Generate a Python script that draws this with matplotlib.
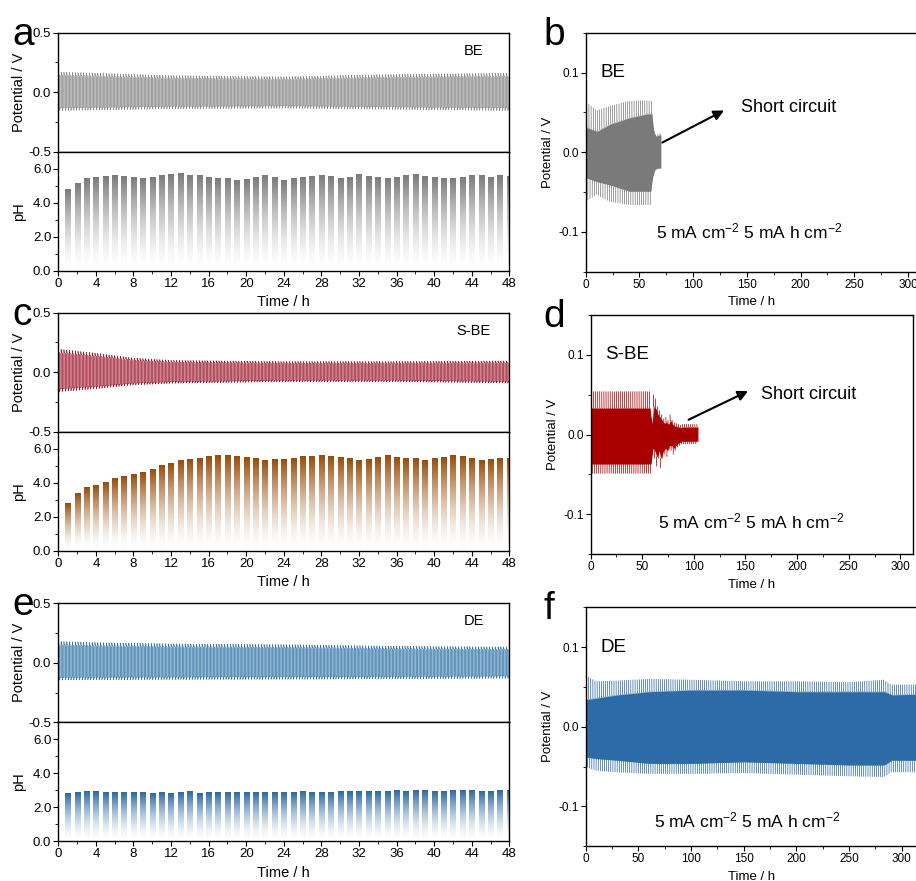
import numpy as np
import matplotlib
matplotlib.use("Agg")
import matplotlib.pyplot as plt
from matplotlib.colors import to_rgb
from matplotlib.ticker import MultipleLocator

plt.rcParams['font.family'] = ['Liberation Sans', 'DejaVu Sans']
plt.rcParams['mathtext.fontset'] = 'custom'
plt.rcParams['mathtext.rm'] = 'Liberation Sans'
plt.rcParams['mathtext.it'] = 'Liberation Sans:italic'
plt.rcParams['axes.linewidth'] = 1.0

# ---- pH readings, one per hour (1..48 h)
hours = np.arange(1, 49)
ph_be = [4.78, 5.12, 5.43, 5.49, 5.55, 5.59, 5.55, 5.49, 5.43, 5.51, 5.59, 5.65,
         5.71, 5.63, 5.61, 5.51, 5.47, 5.43, 5.33, 5.41, 5.51, 5.59, 5.49, 5.33,
         5.45, 5.51, 5.57, 5.63, 5.55, 5.43, 5.51, 5.65, 5.55, 5.49, 5.45, 5.51,
         5.59, 5.65, 5.57, 5.51, 5.43, 5.47, 5.51, 5.61, 5.59, 5.49, 5.59, 5.53]
ph_sbe = [2.78, 3.37, 3.74, 3.84, 4.00, 4.25, 4.41, 4.49, 4.63, 4.78, 5.00, 5.14,
          5.30, 5.39, 5.47, 5.55, 5.59, 5.59, 5.53, 5.49, 5.43, 5.35, 5.37, 5.41,
          5.47, 5.53, 5.55, 5.63, 5.55, 5.49, 5.43, 5.33, 5.41, 5.51, 5.59, 5.51,
          5.47, 5.43, 5.35, 5.47, 5.51, 5.59, 5.53, 5.43, 5.35, 5.41, 5.45, 5.47]
ph_de = [2.82, 2.86, 2.92, 2.92, 2.88, 2.86, 2.84, 2.88, 2.86, 2.82, 2.84, 2.82,
         2.88, 2.94, 2.82, 2.84, 2.86, 2.84, 2.88, 2.88, 2.86, 2.86, 2.88, 2.86,
         2.86, 2.90, 2.84, 2.86, 2.88, 2.90, 2.92, 2.90, 2.92, 2.94, 2.90, 3.00,
         2.90, 2.98, 2.96, 2.92, 2.94, 2.98, 2.96, 2.96, 2.94, 2.94, 2.96, 2.96]

# ---- potential envelopes of the 48 h pH cells (peak of each half cycle)
env_t = [0, 4, 8, 12, 24, 36, 48]
be_up = [0.170, 0.160, 0.150, 0.140, 0.130, 0.150, 0.160]
be_dn = [-0.155, -0.150, -0.145, -0.140, -0.135, -0.145, -0.155]
sbe_up = [0.195, 0.160, 0.120, 0.100, 0.090, 0.090, 0.095]
sbe_dn = [-0.165, -0.140, -0.108, -0.094, -0.080, -0.080, -0.092]
de_up = [0.180, 0.170, 0.165, 0.160, 0.153, 0.140, 0.133]
de_dn = [-0.145, -0.143, -0.142, -0.141, -0.139, -0.135, -0.130]

# ---- symmetric cell cycling, 5 mA cm-2 / 5 mA h cm-2
b_t = [0, 10, 22, 40, 57, 62]
b_outer_up = [0.064, 0.052, 0.058, 0.064, 0.065, 0.064]
b_inner_up = [0.031, 0.026, 0.035, 0.043, 0.048, 0.048]
b_outer_dn = [-0.062, -0.053, -0.062, -0.066, -0.066, -0.066]
b_inner_dn = [-0.032, -0.037, -0.041, -0.049, -0.049, -0.049]
b_short_amp = [0.030, 0.026, 0.022, 0.020, 0.020, 0.021, 0.020, 0.022]

d_t = [0, 58]
d_outer_up = [0.054, 0.054]
d_inner_up = [0.033, 0.033]
d_outer_dn = [-0.049, -0.049]
d_inner_dn = [-0.037, -0.037]
d_short_amp = [0.020, 0.025, 0.050, 0.030, 0.045, 0.040, 0.035, 0.030, 0.030, 0.042,
               0.025, 0.030, 0.020, 0.025, 0.022, 0.028, 0.018, 0.020, 0.025, 0.020,
               0.018, 0.025, 0.015, 0.020, 0.014, 0.016, 0.013, 0.014, 0.012,
               0.012, 0.013, 0.012, 0.013, 0.012, 0.013, 0.012, 0.013, 0.012,
               0.013, 0.012, 0.013, 0.012, 0.013, 0.012, 0.013]

f_t = [0, 10, 30, 60, 100, 150, 200, 250, 283, 290, 320]
f_outer_up = [0.065, 0.057, 0.058, 0.060, 0.059, 0.057, 0.057, 0.056, 0.059, 0.053, 0.053]
f_inner_up = [0.034, 0.036, 0.040, 0.044, 0.046, 0.046, 0.044, 0.044, 0.044, 0.040, 0.041]
f_inner_dn = [-0.038, -0.040, -0.042, -0.046, -0.046, -0.044, -0.046, -0.048, -0.048, -0.042, -0.042]
f_outer_dn = [-0.050, -0.055, -0.057, -0.059, -0.059, -0.058, -0.060, -0.062, -0.063, -0.057, -0.057]

W, H = 916, 881
fig = plt.figure(figsize=(W / 100, H / 100), dpi=100)


def rect(x0, x1, y0, y1):
    return [x0 / W, 1 - y1 / H, (x1 - x0) / W, (y1 - y0) / H]


def square_trace(t_end, half, up_pk, dn_pk, plat_ratio):
    # galvanostatic plating/stripping: overshoot then plateau each half cycle
    ts, vs = [], []
    for i, t0 in enumerate(np.arange(0, t_end, half)):
        pk = np.interp(t0, env_t, up_pk if i % 2 == 0 else dn_pk)
        ts += [t0, t0 + 0.2 * half, t0 + half]
        vs += [pk, pk * plat_ratio, pk * plat_ratio * 0.97]
    return np.array(ts), np.array(vs)


def gradient_bars(ax, x, h, color, width=0.55):
    n = 200
    img = np.zeros((n, 1, 4))
    img[..., :3] = to_rgb(color)
    img[..., 3] = (np.linspace(0, 1, n) ** 1.6)[:, None]
    for xi, hi in zip(x, h):
        ax.imshow(img, extent=(xi - width / 2, xi + width / 2, 0, hi),
                  origin='lower', aspect='auto', interpolation='bilinear', zorder=2)


def ph_panel(y0, letter, label, up_pk, dn_pk, line_c, fill_c, ph, bar_c, first_dip=None):
    mid = (y0 + y0 + 238) / 2
    ax1 = fig.add_axes(rect(58.3, 509.3, y0, mid))
    ax2 = fig.add_axes(rect(58.3, 509.3, mid, y0 + 238))

    t, v = square_trace(48, 0.15, up_pk, dn_pk, 0.86)
    if first_dip is not None:
        t = np.r_[0, t]
        v = np.r_[first_dip, v]
    tg = np.linspace(0, 48, 400)
    ax1.fill_between(tg, np.interp(tg, env_t, up_pk) * 0.84,
                     np.interp(tg, env_t, dn_pk) * 0.84, color=fill_c, lw=0, zorder=1)
    ax1.plot(t, v, color=line_c, lw=0.45, zorder=2)
    ax1.set_xlim(0, 48)
    ax1.set_ylim(-0.5, 0.5)
    ax1.set_xticks([])
    ax1.yaxis.set_major_locator(MultipleLocator(0.5))
    ax1.yaxis.set_minor_locator(MultipleLocator(0.25))
    ax1.yaxis.set_major_formatter(lambda val, pos: f"{val:.1f}")
    ax1.set_ylabel("Potential / V", fontsize=10.5)
    ax1.text(44.2, 0.35, label, ha='center', va='center', fontsize=10.5)

    gradient_bars(ax2, hours, ph, bar_c)
    ax2.set_xlim(0, 48)
    ax2.set_ylim(0, 7)
    ax2.set_yticks([0, 2, 4, 6])
    ax2.yaxis.set_minor_locator(MultipleLocator(1))
    ax2.yaxis.set_major_formatter(lambda val, pos: f"{val:.1f}")
    ax2.xaxis.set_major_locator(MultipleLocator(4))
    ax2.xaxis.set_minor_locator(MultipleLocator(2))
    ax2.set_ylabel("pH", fontsize=10.5)
    ax2.set_xlabel("Time / h", fontsize=10.5, labelpad=4)
    for ax in (ax1, ax2):
        ax.tick_params(which='major', direction='out', length=3.5, width=0.8,
                       labelsize=9.5, pad=1.5)
        ax.tick_params(which='minor', direction='out', length=2, width=0.6)
        ax.yaxis.set_label_coords(-0.072, 0.5)
    fig.text(12 / W, 1 - (y0 + 12) / H, letter, fontsize=28, ha='left', va='baseline')
    return ax1, ax2


def cycle_panel(x0, x1, y0, xmax, letter, label, starts, outer, inner, color):
    ax = fig.add_axes(rect(x0, x1, y0, y0 + 239))
    starts = np.asarray(starts, float)
    outer = np.asarray(outer)
    inner = np.asarray(inner)
    # each 1 h half cycle: overshoot at the current reversal, then plateau
    t = np.column_stack([starts, starts + 0.1, starts + 1.0]).ravel()
    v = np.column_stack([outer, inner, inner]).ravel()
    up, dn = inner > 0, inner < 0
    tg = np.linspace(0, starts[-1] + 1, 3000)
    ax.fill_between(tg, np.interp(tg, starts[up] + 0.5, inner[up]),
                    np.interp(tg, starts[dn] + 0.5, inner[dn]), color=color, lw=0)
    ax.plot(t, v, color=color, lw=0.35, alpha=0.75)
    ax.set_xlim(0, xmax)
    ax.set_ylim(-0.15, 0.15)
    ax.yaxis.set_major_locator(MultipleLocator(0.1))
    ax.yaxis.set_minor_locator(MultipleLocator(0.05))
    ax.yaxis.set_major_formatter(lambda val, pos: f"{val:.1f}")
    ax.xaxis.set_major_locator(MultipleLocator(50))
    ax.xaxis.set_minor_locator(MultipleLocator(25))
    ax.tick_params(which='major', direction='out', length=3.5, width=0.8,
                   labelsize=8.5, pad=1.5)
    ax.tick_params(which='minor', direction='out', length=2, width=0.6)
    ax.set_ylabel("Potential / V", fontsize=9.5)
    ax.yaxis.set_label_coords(-30 / (x1 - x0) - 0.005, 0.5)
    ax.set_xlabel("Time / h", fontsize=9.5, labelpad=4)
    ax.text(xmax * 14 / 309, 0.1, label, ha='left', va='center', fontsize=13.5)
    ax.text(65, -0.1 - 0.009 * (letter == 'd') - 0.018 * (letter == 'f'),
            "5 mA cm$^{-2}$ 5 mA h cm$^{-2}$", ha='left', va='center', fontsize=12.5)
    fig.text(543 / W, 1 - (y0 + 12) / H, letter, fontsize=28, ha='left', va='baseline')
    return ax


# left column: potential + pH
ph_panel(32.7, 'a', 'BE', be_up, be_dn, '#8a8a8a', '#c9c9c9', ph_be, '#7a7a7a')
ph_panel(312.7, 'c', 'S-BE', sbe_up, sbe_dn, '#9b1b2e', '#dba4ac', ph_sbe, '#9a4a08',
         first_dip=-0.23)
ph_panel(603.3, 'e', 'DE', de_up, de_dn, '#3676a8', '#a8c7db', ph_de, '#2a68a4')

arrow_style = dict(arrowstyle='-|>', color='black', lw=1.5, mutation_scale=15)

# b: BE, short circuit after ~62 h
sb = np.arange(0, 62)
sgn = np.where(sb % 2 == 0, -1, 1)
ob = np.where(sgn > 0, np.interp(sb, b_t, b_outer_up), np.interp(sb, b_t, b_outer_dn))
ib = np.where(sgn > 0, np.interp(sb, b_t, b_inner_up), np.interp(sb, b_t, b_inner_dn))
ob[0], ib[0] = -0.070, -0.032
ss = np.arange(62, 62 + len(b_short_amp))
sgs = np.where(ss % 2 == 0, -1, 1)
amp = np.array(b_short_amp)
ax_b = cycle_panel(585.7, 918, 32.7, 309.3, 'b', 'BE', np.r_[sb, ss],
                   np.r_[ob, sgs * amp * 1.05], np.r_[ib, sgs * amp], '#7a7a7a')
ax_b.annotate("", xy=(131, 0.054), xytext=(69, 0.0105), arrowprops=arrow_style)
ax_b.text(145, 0.056, "Short circuit", ha='left', va='center', fontsize=13)

# d: S-BE, unstable from ~59 h
sd = np.arange(0, 59)
sgn = np.where(sd % 2 == 0, -1, 1)
od = np.where(sgn > 0, np.interp(sd, d_t, d_outer_up), np.interp(sd, d_t, d_outer_dn))
idd = np.where(sgn > 0, np.interp(sd, d_t, d_inner_up), np.interp(sd, d_t, d_inner_dn))
od[0], idd[0] = -0.170, -0.037
ss = np.arange(59, 59 + len(d_short_amp))
sgs = np.where(ss % 2 == 0, -1, 1)
amp = np.array(d_short_amp)
ax_d = cycle_panel(590.5, 913.3, 315, 312.5, 'd', 'S-BE', np.r_[sd, ss],
                   np.r_[od, sgs * amp], np.r_[idd, sgs * amp * 0.7], '#a80000')
ax_d.annotate("", xy=(155, 0.056), xytext=(92.5, 0.017), arrowprops=arrow_style)
ax_d.text(165, 0.05, "Short circuit", ha='left', va='center', fontsize=13)

# f: DE, stable for >300 h
sf = np.arange(0, 320)
sgn = np.where(sf % 2 == 0, -1, 1)
of = np.where(sgn > 0, np.interp(sf, f_t, f_outer_up), np.interp(sf, f_t, f_outer_dn))
inf = np.where(sgn > 0, np.interp(sf, f_t, f_inner_up), np.interp(sf, f_t, f_inner_dn))
of[0] = -0.075
cycle_panel(585.5, 918, 607.3, 315.5, 'f', 'DE', sf, of, inf, '#2c6ba6')

fig.savefig("out.png", dpi=100)
